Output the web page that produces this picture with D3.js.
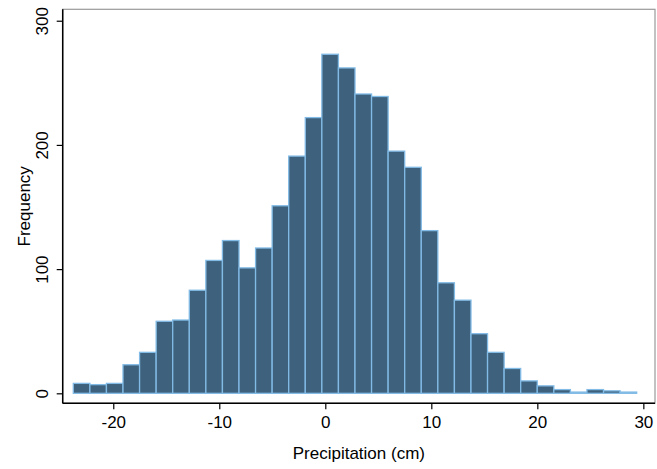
<!DOCTYPE html>
<meta charset="utf-8">
<style>
  body {
    margin: 0;
    background: #fff;
  }
  text {
    font-family: "Liberation Sans", Arial, sans-serif;
    fill: #000;
  }
</style>
<body>
</body>
<script src="https://cdn.jsdelivr.net/npm/d3@7"></script>
<script>

// histogram bins: first left edge and bin width (cm), counts per bin
var binStart = -23.77,
    binWidth = 1.563;
var counts = [8, 7, 8, 23, 33, 58, 59, 83, 107, 123, 101, 117, 151, 191, 222, 273, 262,
              241, 239, 195, 182, 131, 89, 75, 48, 33, 20, 10, 6, 3, 1, 3, 2, 1];

var xTicks = [-20, -10, 0, 10, 20, 30],
    yTicks = [0, 100, 200, 300];

var width = 657,
    height = 469,
    fontSize = "17px";

var frame = {left: 62.7, right: 655, top: 9.3, bottom: 403.3};

var x = d3.scaleLinear().domain([-24.77, 31.1]).range([frame.left, frame.right]),
    y = d3.scaleLinear().domain([-8.04, 309.2]).range([frame.bottom, frame.top]);

var bins = counts.map(function(c, i) {
  return {x0: binStart + i * binWidth, x1: binStart + (i + 1) * binWidth, count: c};
});

var svg = d3.select("body").append("svg")
    .attr("width", width)
    .attr("height", height);

svg.append("rect")
    .attr("x", frame.left)
    .attr("y", frame.top)
    .attr("width", frame.right - frame.left)
    .attr("height", frame.bottom - frame.top)
    .style("fill", "none")
    .style("stroke", "#999")
    .style("stroke-width", 1.2);

svg.append("g").selectAll("rect")
    .data(bins)
  .enter().append("rect")
    .attr("x", d => x(d.x0))
    .attr("y", d => y(d.count))
    .attr("width", d => x(d.x1) - x(d.x0))
    .attr("height", d => y(0) - y(d.count))
    .style("fill", "#3e627d")
    .style("stroke", "#82bbe6")
    .style("stroke-width", 1.3);

// plain hyphen for negatives, like the original
var plain = d => String(d);

var xAxis = svg.append("g")
    .attr("transform", "translate(0," + frame.bottom + ")")
    .call(d3.axisBottom(x).tickValues(xTicks).tickFormat(plain).tickSize(6).tickPadding(7).tickSizeOuter(0));

var yAxis = svg.append("g")
    .attr("transform", "translate(" + frame.left + ",0)")
    .call(d3.axisLeft(y).tickValues(yTicks).tickFormat(plain).tickSize(6).tickSizeOuter(0));

xAxis.select(".domain")
    .attr("d", "M" + frame.left + ",0H" + frame.right);
yAxis.select(".domain")
    .attr("d", "M0," + frame.top + "V" + frame.bottom);

[xAxis, yAxis].forEach(function(a) {
  a.select(".domain").style("stroke", "#000").style("stroke-width", 1.5);
  a.selectAll(".tick line").style("stroke", "#000").style("stroke-width", 1.2);
  a.selectAll("text").style("font-size", fontSize).style("font-family", "Liberation Sans, Arial, sans-serif");
});

xAxis.selectAll(".tick text").attr("dy", "0.71em");

yAxis.selectAll(".tick text")
    .attr("x", 0)
    .attr("dy", 0)
    .attr("text-anchor", "middle")
    .attr("transform", "translate(-14.5,0) rotate(-90)");

svg.append("text")
    .attr("x", (frame.left + frame.right) / 2)
    .attr("y", 459)
    .attr("text-anchor", "middle")
    .style("font-size", fontSize)
    .text("Precipitation (cm)");

svg.append("text")
    .attr("transform", "translate(29.5," + (frame.top + frame.bottom) / 2 + ") rotate(-90)")
    .attr("text-anchor", "middle")
    .style("font-size", fontSize)
    .text("Frequency");

</script>
